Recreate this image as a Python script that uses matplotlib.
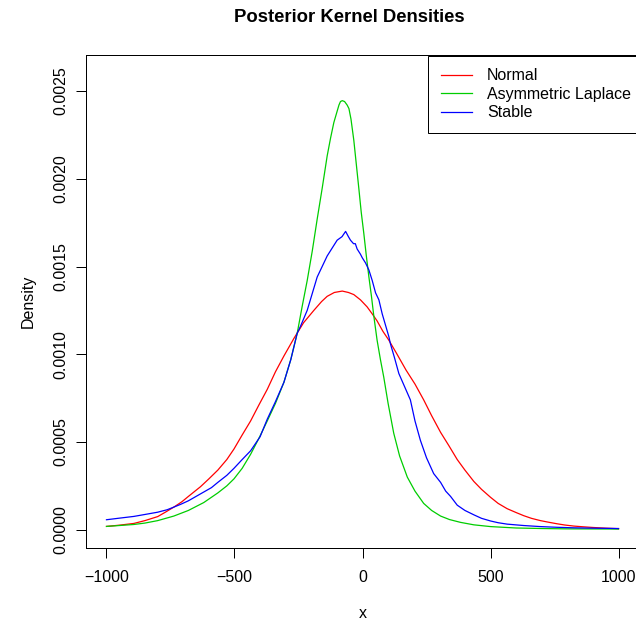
import matplotlib
matplotlib.use("Agg")
import matplotlib.pyplot as plt
from matplotlib.ticker import FixedLocator, FuncFormatter

plt.rcParams['font.family'] = ['Liberation Sans', 'DejaVu Sans']

# posterior kernel density estimates, read on a common density scale
x_normal = [-1000, -950, -893, -850, -800, -770, -737, -705, -680, -633, -600, -565, -530,
            -502, -470, -437, -405, -372, -340, -307, -268, -230, -190, -160, -138, -110,
            -79, -55, -34, -8, 18, 38, 57, 80, 103, 135, 170, 205, 239, 270, 305, 337,
            370, 400, 435, 465, 500, 530, 565, 600, 630, 660, 695, 730, 760, 790, 825,
            860, 900, 950, 1000]
d_normal = [0.000019, 0.000026, 0.000036, 0.000052, 0.000075, 0.000100, 0.000129, 0.00016,
            0.00019, 0.000245, 0.00029, 0.00034, 0.00040, 0.00046, 0.00054, 0.00062,
            0.00071, 0.00080, 0.00090, 0.00099, 0.00109, 0.00118, 0.00125, 0.00130,
            0.00133, 0.001352, 0.00136, 0.001352, 0.00134, 0.00131, 0.00127, 0.00123,
            0.00119, 0.00113, 0.00108, 0.00100, 0.00091, 0.00083, 0.00074, 0.00065,
            0.000555, 0.00048, 0.00040, 0.00034, 0.000275, 0.00023, 0.000185, 0.00015,
            0.00012, 0.000098, 0.00008, 0.000065, 0.000052, 0.000042, 0.000034, 0.000027,
            0.000021, 0.000017, 0.000013, 0.000009, 0.000006]

x_alaplace = [-1000, -950, -893, -850, -800, -737, -680, -620, -565, -530, -502, -470,
              -437, -405, -372, -340, -307, -280, -255, -236, -216, -196, -177, -157,
              -138, -125, -112, -100, -92, -86, -79, -70, -60, -53, -45, -34, -24, -14,
              -5, 5, 15, 25, 35, 44, 57, 70, 83, 100, 122, 145, 175, 205, 239, 270, 305,
              340, 383, 435, 500, 600, 700, 800, 900, 1000]
d_alaplace = [0.000019, 0.000024, 0.000030, 0.000038, 0.000052, 0.000078, 0.00011,
              0.000155, 0.00021, 0.00025, 0.00029, 0.00035, 0.00043, 0.00052, 0.00062,
              0.00072, 0.00084, 0.00097, 0.00112, 0.00127, 0.00142, 0.00159, 0.00177,
              0.00195, 0.00213, 0.00223, 0.00232, 0.00238, 0.00242, 0.00244, 0.002445,
              0.00244, 0.00242, 0.00240, 0.00234, 0.00222, 0.00208, 0.00194, 0.00181,
              0.00169, 0.00156, 0.00144, 0.00133, 0.00122, 0.00108, 0.00097, 0.00087,
              0.00072, 0.00055, 0.00042, 0.00030, 0.00022, 0.00015, 0.00011, 0.000078,
              0.000058, 0.000042, 0.000028, 0.000018, 0.00001, 0.000007, 0.000005,
              0.0000045, 0.000004]

x_stable = [-1000, -950, -893, -850, -800, -763, -737, -710, -680, -650, -620, -590, -565,
            -530, -502, -470, -437, -400, -372, -340, -307, -280, -255, -242, -216, -177,
            -138, -99, -80, -66, -55, -47, -35, -28, -21, -8, -1, 12, 25, 38, 51, 64, 77,
            103, 109, 125, 142, 160, 187, 205, 226, 250, 278, 305, 325, 344, 370, 400,
            435, 465, 500, 530, 565, 630, 695, 760, 825, 900, 1000]
d_stable = [0.000057, 0.000066, 0.000076, 0.000087, 0.000100, 0.000114, 0.000129, 0.000145,
            0.000165, 0.00019, 0.000215, 0.00024, 0.00027, 0.00031, 0.00035, 0.00040,
            0.00045, 0.00053, 0.00063, 0.00073, 0.00084, 0.00097, 0.00112, 0.00116,
            0.00125, 0.00144, 0.00156, 0.00165, 0.00167, 0.00170, 0.00167, 0.00165,
            0.00163, 0.00163, 0.00160, 0.00157, 0.00155, 0.00152, 0.00148, 0.00142,
            0.00135, 0.00131, 0.00123, 0.00110, 0.00106, 0.00098, 0.00089, 0.00083,
            0.00074, 0.00062, 0.00051, 0.00041, 0.00032, 0.00027, 0.00022, 0.00019,
            0.00014, 0.00011, 0.000085, 0.000065, 0.000050, 0.00004, 0.000032, 0.000024,
            0.000018, 0.000014, 0.000011, 0.000009, 0.000007]

series_names = ["Normal", "Asymmetric Laplace", "Stable"]
xticks = [-1000, -500, 0, 500, 1000]
yticks = [0.0, 0.0005, 0.0010, 0.0015, 0.0020, 0.0025]

FS = 11.5

fig = plt.figure(figsize=(6.36, 6.23), dpi=100)
ax = fig.add_axes([86 / 636, 75 / 623, 553 / 636, 492.8 / 623])

ax.plot(x_normal, d_normal, color="#FF0000", lw=0.9, label=series_names[0])
ax.plot(x_alaplace, d_alaplace, color="#00CD00", lw=0.9, label=series_names[1])
ax.plot(x_stable, d_stable, color="#0000FF", lw=0.9, label=series_names[2])

ax.set_xlim(-1080, 1080)
ax.set_ylim(-0.000104, 0.002704)

ax.xaxis.set_major_locator(FixedLocator(xticks))
ax.yaxis.set_major_locator(FixedLocator(yticks))
ax.xaxis.set_major_formatter(FuncFormatter(lambda v, p: "%d" % v if v >= 0 else "\u2212%d" % -v))
ax.yaxis.set_major_formatter(FuncFormatter(lambda v, p: "%.4f" % v))
ax.tick_params(direction="out", length=7.2, width=0.72, labelsize=FS, color="black")
ax.tick_params(axis="x", pad=8.9)
ax.tick_params(axis="y", pad=5.6)
for lab in ax.get_yticklabels():
    lab.set_rotation(90)
    lab.set_va("center")

for sp in ax.spines.values():
    sp.set_linewidth(0.72)
    sp.set_color("black")

ax.set_xlabel("x", fontsize=FS)
ax.set_ylabel("Density", fontsize=FS)
ax.xaxis.set_label_coords(0.5, -(614 - 548) / 492.8)
ax.xaxis.label.set_va("center")
ax.yaxis.set_label_coords(-(86 - 28) / 553, 0.5)
ax.yaxis.label.set_va("center")

fig.text(349 / 636, 1 - 18 / 623, "Posterior Kernel Densities", ha="center", va="center",
         fontsize=13.3, fontweight="bold")

leg = ax.legend(loc="upper left", bbox_to_anchor=(428 / 636, 1 - 55.5 / 623),
                bbox_transform=fig.transFigure, fontsize=FS, frameon=True,
                fancybox=False, framealpha=1, edgecolor="black", borderpad=0.8,
                handlelength=1.95, handletextpad=0.95, labelspacing=0.22, borderaxespad=0)
leg.get_frame().set_linewidth(0.72)

fig.savefig("out.png", dpi=100)
